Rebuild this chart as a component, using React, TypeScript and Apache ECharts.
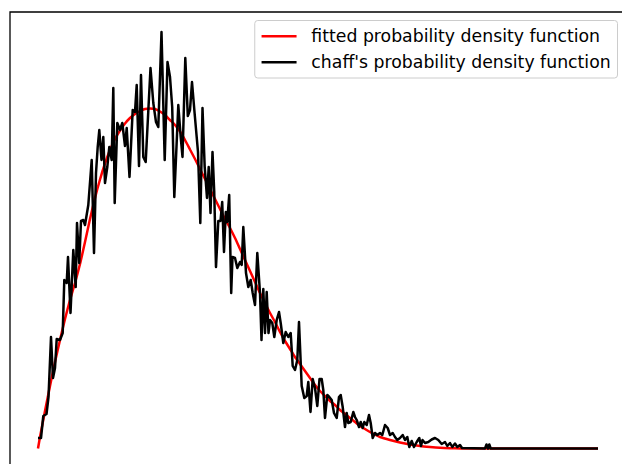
import React, { useEffect, useRef } from "react";
import * as echarts from "echarts";

// x in arbitrary bin units, y in arbitrary density units
const fittedX = [0, 2, 7, 12, 17, 22, 27, 32, 37, 42, 47, 52, 57, 62, 67, 72, 77, 82, 87, 92, 97, 102, 107, 112, 117, 122, 127, 132, 137, 142, 147, 152, 157, 162, 167, 172, 177, 182, 187, 192, 197, 202, 207, 212, 217, 222, 227, 232, 237, 242, 247, 252, 257, 262, 267, 272, 277, 282, 287, 292, 297, 302, 307, 312, 317, 322, 327, 332, 337, 342, 352, 362, 372, 382, 392, 402, 412, 422, 442, 560];
const fittedY = [0, 11.5, 37.5, 62.5, 86.5, 108.5, 129.5, 148.5, 165.5, 184.5, 206.5, 229.5, 250.5, 269, 285, 298.5, 309.5, 318, 325, 330.5, 334.5, 337.5, 339.5, 340, 339.5, 337, 333.5, 328.5, 323.5, 317, 308.5, 299, 289.5, 279.5, 269.5, 259.5, 249.5, 239.5, 229.5, 220.5, 210.5, 199.5, 188.5, 177.5, 166.5, 155.5, 145.5, 135.5, 126.5, 116.5, 107.5, 99.5, 91.5, 84.5, 77.5, 70.5, 63.5, 57.5, 52.5, 47.5, 43.5, 38.5, 34.5, 30.5, 26.5, 22.5, 19.5, 16.5, 14, 11.5, 8.5, 6, 4, 2.5, 1.5, 0.7, 0.3, 0.1, 0, 0];

const chaffX = [0, 3, 5.3, 8.5, 10.5, 13, 15, 17, 18.7, 22, 24.7, 26.3, 28.7, 30, 32.5, 35.3, 37.7, 39, 41.2, 43, 45.3, 47, 50.3, 53.7, 56, 58, 59.7, 61.3, 63.5, 65.3, 67, 69.3, 71.3, 73.7, 75.3, 76.7, 79.3, 82, 84.3, 87, 88.7, 91.5, 94.7, 97, 98.7, 101, 103, 105.3, 107.7, 112.5, 115.3, 118, 120.3, 123.5, 126.7, 129.5, 132, 134.2, 136.3, 140.3, 142.7, 144.5, 147.3, 149.8, 152, 154, 156.5, 160, 162.3, 164.5, 166.7, 169, 170.7, 172.5, 174.5, 176.2, 178, 180.3, 182.5, 184.2, 186, 187.8, 189.2, 191.2, 193.2, 194.5, 197, 199.3, 202, 203.7, 205.3, 208, 210.3, 212.7, 214.7, 217, 219.3, 222, 223.5, 225.3, 227, 228.7, 230.5, 232, 234.3, 236.3, 238.7, 241, 242.7, 245.3, 247.7, 250.3, 252.7, 254.7, 257, 259.3, 261, 263.7, 266.3, 268.7, 270.3, 272.5, 274.7, 277, 279.3, 281.5, 283.7, 285.3, 287, 289.3, 291.3, 293.7, 296, 298.7, 301, 302.7, 304.7, 307, 308.7, 310.3, 312.7, 315.3, 317, 318.7, 321, 322.7, 324.7, 326.3, 328.7, 331, 332.7, 334.7, 337, 339.3, 342, 344.3, 347, 349.7, 352, 354.7, 357, 359.3, 362, 364.7, 367, 369.3, 371.3, 373.7, 376, 378.7, 381.3, 383, 384.5, 387, 390.3, 393.7, 397, 400.3, 403.7, 407, 409.3, 412, 414.3, 417, 419.3, 422, 424, 447, 448.5, 450, 451.3, 452.7, 560];
const chaffY = [10.5, 10.5, 32.5, 34.5, 51.5, 111.5, 70.5, 80.5, 109.5, 108.5, 115.5, 168.5, 165.5, 191.5, 135.5, 198.5, 161.5, 225.5, 185.5, 227.5, 228.5, 223.5, 243.5, 288.5, 195.5, 275.5, 301.5, 318.5, 288.5, 311.5, 265.5, 281.5, 301.5, 288.5, 360.5, 245.5, 325.5, 318.5, 325.5, 302.5, 320.5, 271.5, 338.5, 336.5, 363.5, 282.5, 373.5, 291.5, 286.5, 380.5, 345.5, 326.5, 321.5, 416.5, 288.5, 386.5, 371.5, 341.5, 251.5, 343.5, 311.5, 291.5, 390.5, 332.5, 338.5, 366.5, 336.5, 296.5, 225.5, 340.5, 281.5, 250.5, 281.5, 235.5, 296.5, 257.5, 181.5, 227.5, 227.5, 246.5, 196.5, 236.5, 226.5, 253.5, 155.5, 191.5, 190.5, 180.5, 186.5, 183.5, 221.5, 175.5, 161.5, 168.5, 155.5, 143.5, 195.5, 155.5, 108.5, 159.5, 115.5, 156.5, 115.5, 128.5, 125.5, 111.5, 128.5, 136.5, 125.5, 105.5, 116.5, 111.5, 115.5, 82.5, 78.5, 88.5, 126.5, 62.5, 50.5, 52.5, 66.5, 36.5, 69.5, 60.5, 42.5, 69.5, 69.5, 58.5, 30.5, 53.5, 51.5, 48.5, 35.5, 30.5, 51.5, 53.5, 41.5, 21.5, 35.5, 25.5, 26.5, 36.5, 31.5, 28.5, 21.5, 26.5, 20.5, 26.5, 23.5, 33.5, 25.5, 10.5, 15.5, 13.5, 15.5, 13.5, 23.5, 20.5, 13.5, 15.5, 11.5, 8.5, 10.5, 13.5, 8.5, 11.5, 1.5, 7.5, 1.5, 6.5, 10.5, 2.5, 8.5, 5.5, 6.5, 9, 10.5, 8.5, 4.5, 6.5, 2.5, 5.5, 1.5, 5, 1.5, 3.5, 0.5, 0, 4, 0, 4, 0, 0];

const seriesNames = ["fitted probability density function", "chaff's probability density function"];

export default function App() {
  const ref = useRef<HTMLDivElement>(null);
  useEffect(() => {
    const chart = echarts.init(ref.current!, undefined, { renderer: "svg" });
    const fitted = fittedX.map((x, i) => [x, fittedY[i]]);
    const chaff = chaffX.map((x, i) => [x, chaffY[i]]);
    chart.setOption({
      animation: false,
      backgroundColor: "#ffffff",
      grid: {
        left: 10,
        top: 12,
        right: 6,
        bottom: 6,
        show: true,
        borderColor: "#000000",
        borderWidth: 1.3,
        backgroundColor: "transparent",
      },
      xAxis: {
        type: "value",
        min: -28,
        max: 588,
        axisLine: { show: false },
        axisTick: { show: false },
        axisLabel: { show: false },
        splitLine: { show: false },
      },
      yAxis: {
        type: "value",
        min: -21.5,
        max: 436.5,
        axisLine: { show: false },
        axisTick: { show: false },
        axisLabel: { show: false },
        splitLine: { show: false },
      },
      legend: {
        data: seriesNames,
        orient: "vertical",
        right: 14.5,
        top: 20.5,
        icon: "rect",
        itemWidth: 35,
        itemHeight: 2.5,
        itemGap: 8.5,
        padding: [6.8, 6.8, 6.8, 6.8],
        backgroundColor: "rgba(255,255,255,0.8)",
        borderColor: "#cccccc",
        borderWidth: 1,
        borderRadius: 3,
        textStyle: {
          fontFamily: "DejaVu Sans",
          fontSize: 17.3,
          lineHeight: 17.7,
          color: "#000000",
          padding: [0, 0, 0, 9.8],
        },
      },
      series: [
        {
          name: seriesNames[0],
          type: "line",
          data: fitted,
          symbol: "none",
          smooth: 0.2,
          lineStyle: { color: "#ff0000", width: 2.5 },
          itemStyle: { color: "#ff0000" },
          z: 2,
        },
        {
          name: seriesNames[1],
          type: "line",
          data: chaff,
          symbol: "none",
          lineStyle: { color: "#000000", width: 2.5, join: "round" },
          itemStyle: { color: "#000000" },
          z: 3,
        },
      ],
    });
    return () => chart.dispose();
  }, []);
  return (
    <div
      style={{
        position: "fixed",
        left: 0,
        top: 0,
        width: 622,
        height: 464,
        overflow: "hidden",
        background: "#ffffff",
      }}
    >
      <div ref={ref} style={{ width: 632, height: 476 }} />
    </div>
  );
}
